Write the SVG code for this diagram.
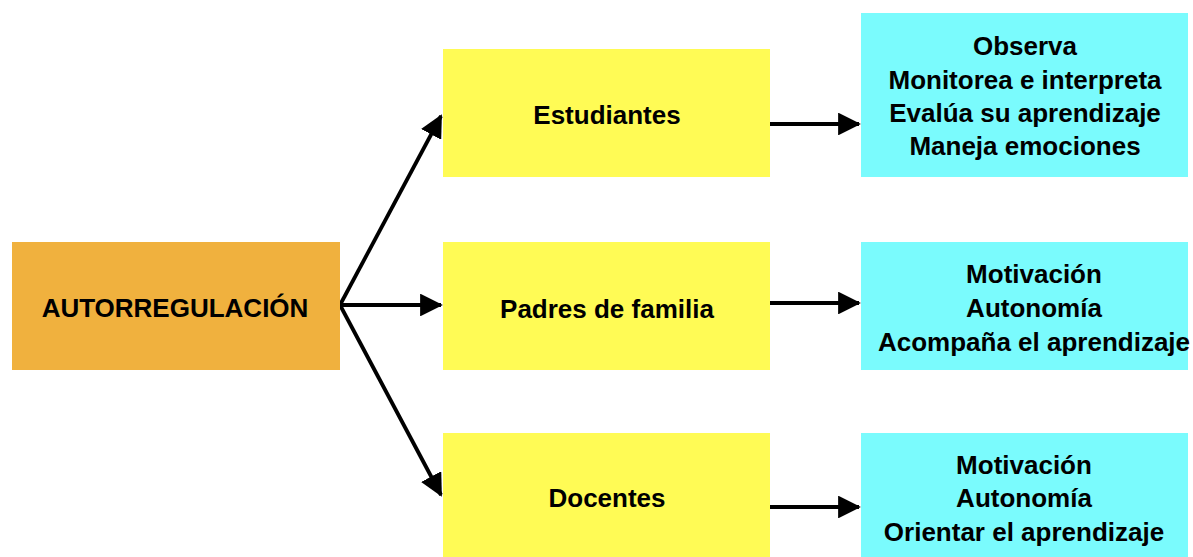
<svg xmlns="http://www.w3.org/2000/svg" width="1193" height="557" viewBox="0 0 1193 557">
<style>
.t{font-family:"Liberation Sans",Arial,sans-serif;font-weight:bold;font-size:26px;fill:#000;text-anchor:middle;dominant-baseline:central}
.y{fill:#FFFB55}
.c{fill:#7AFBFD}
.o{fill:#F0B13E}
.e{stroke:#000;stroke-width:3.8;fill:none}
</style>
<defs>
<marker id="ah" markerWidth="6" markerHeight="6" refX="5.5" refY="3" orient="auto" markerUnits="strokeWidth">
<path d="M0,0 L6,3 L0,6 z" fill="#000"/>
</marker>
</defs>
<g id="connectors">
<line class="e" x1="340" y1="305" x2="441" y2="116" marker-end="url(#ah)"/>
<line class="e" x1="340" y1="305" x2="441" y2="305" marker-end="url(#ah)"/>
<line class="e" x1="340" y1="305" x2="441" y2="495" marker-end="url(#ah)"/>
<line class="e" x1="770" y1="124" x2="859" y2="124" marker-end="url(#ah)"/>
<line class="e" x1="770" y1="303" x2="859" y2="303" marker-end="url(#ah)"/>
<line class="e" x1="770" y1="507" x2="859" y2="507" marker-end="url(#ah)"/>
</g>
<g id="autorregulacion">
<rect class="o" x="12" y="242" width="328" height="128"/>
<text class="t" x="175" y="308">AUTORREGULACIÓN</text>
</g>
<g id="estudiantes">
<rect class="y" x="443" y="49" width="327" height="128"/>
<text class="t" x="607" y="115">Estudiantes</text>
</g>
<g id="padres">
<rect class="y" x="443" y="242" width="327" height="128"/>
<text class="t" x="607" y="309">Padres de familia</text>
</g>
<g id="docentes">
<rect class="y" x="443" y="433" width="327" height="124"/>
<text class="t" x="607" y="498">Docentes</text>
</g>
<g id="estudiantes-acciones">
<rect class="c" x="861" y="13" width="327" height="164"/>
<text class="t" x="1025" y="46">Observa</text>
<text class="t" x="1025" y="80">Monitorea e interpreta</text>
<text class="t" x="1025" y="113">Evalúa su aprendizaje</text>
<text class="t" x="1025" y="146">Maneja emociones</text>
</g>
<g id="padres-acciones">
<rect class="c" x="861" y="242" width="327" height="128"/>
<text class="t" x="1034" y="274">Motivación</text>
<text class="t" x="1034" y="308">Autonomía</text>
<text class="t" x="1034" y="342">Acompaña el aprendizaje</text>
</g>
<g id="docentes-acciones">
<rect class="c" x="861" y="433" width="327" height="124"/>
<text class="t" x="1024" y="465">Motivación</text>
<text class="t" x="1024" y="498">Autonomía</text>
<text class="t" x="1024" y="532">Orientar el aprendizaje</text>
</g>
</svg>
